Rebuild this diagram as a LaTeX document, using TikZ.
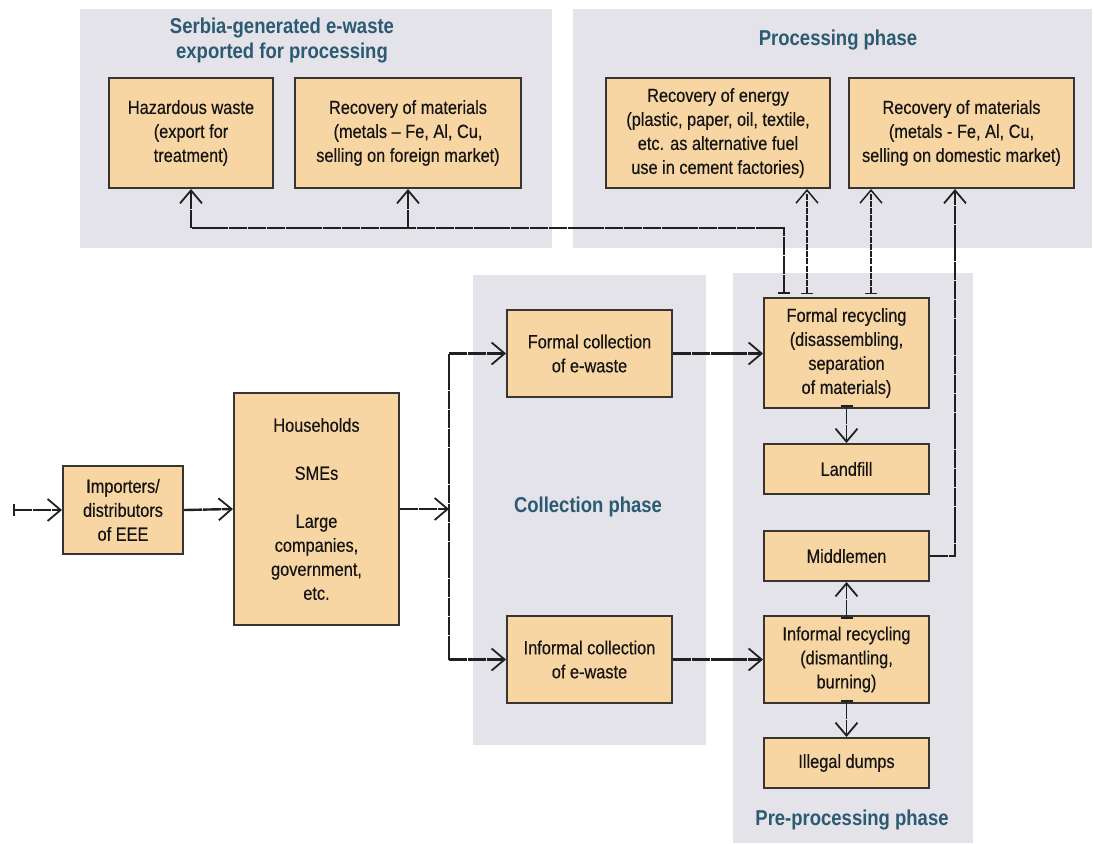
\documentclass[tikz,border=0pt]{standalone}
\usepackage{fontspec}
\setmainfont{Liberation Sans}[FakeStretch=0.86]
\newfontfamily\stagefont{Liberation Sans}[FakeStretch=0.86,FakeBold=0.35,Ligatures=TeX]
\usetikzlibrary{arrows.meta,calc}
\definecolor{panelgray}{HTML}{E3E3E9}
\definecolor{boxfill}{HTML}{F8D6A3}
\definecolor{boxline}{HTML}{3A3430}
\definecolor{titleblue}{HTML}{2B5A72}
\definecolor{flowcol}{HTML}{202020}
\begin{document}
\begin{tikzpicture}[x=1pt,y=-1pt,
  panel/.style={fill=panelgray,draw=none},
  stage/.style={draw=boxline,fill=boxfill,line width=2pt,rectangle,align=center,
    inner sep=0pt,font=\stagefont\fontsize{19}{24}\selectfont,text=black!92},
  phase/.style={align=center,text=titleblue,font=\fontsize{21.5}{25}\selectfont\bfseries},
  flowline/.style={draw=flowcol,line width=2.4pt,dash pattern=on 18pt off 0.8pt},
  headtip/.style={arrows={-Straight Barb[length=13pt,width=22pt,line width=1.8pt]}},
  flow/.style={flowline,arrows={Bar[width=12pt,line width=1.6pt]-Straight Barb[length=13pt,width=22pt,line width=1.8pt]}},
  feed/.style={flowline,headtip},
  dropflow/.style={flow,line width=1.8pt},
  thinflow/.style={draw=flowcol,line width=1.4pt,dash pattern=on 6pt off 1.2pt,
    arrows={Bar[width=12pt,line width=1.2pt]-Straight Barb[length=13pt,width=22pt,line width=1.5pt]}}
]
\useasboundingbox (0,0) rectangle (1094,843);

% phase panels
\fill[panel] (80,9) rectangle (552,248);
\fill[panel] (573,9) rectangle (1092,248);
\fill[panel] (473,275) rectangle (706,745);
\fill[panel] (733,273) rectangle (973,843);

% phase titles
\node[phase] (tExport) at (282,40) {Serbia-generated e-waste\\exported for processing};
\node[phase] (tProc) at (838,40) {Processing phase};
\node[phase] (tColl) at (588,507) {Collection phase};
\node[phase] (tPre) at (852,820) {Pre-processing phase};

% stages
\node[stage,minimum width=120pt,minimum height=88pt] (imp) at (123,510) {Importers/\\distributors\\of EEE};
\node[stage,minimum width=165pt,minimum height=232pt] (hh) at (316.5,509) {Households\\[24pt]SMEs\\[24pt]Large\\companies,\\government,\\etc.};
\node[stage,minimum width=164pt,minimum height=110pt] (haz) at (191,133) {Hazardous waste\\(export for\\treatment)};
\node[stage,minimum width=226pt,minimum height=110pt] (recf) at (408,133) {Recovery of materials\\(metals – Fe, Al, Cu,\\selling on foreign market)};
\node[stage,minimum width=224pt,minimum height=110pt] (rece) at (718,133) {Recovery of energy\\(plastic, paper, oil, textile,\\etc. as alternative fuel\\use in cement factories)};
\node[stage,minimum width=225pt,minimum height=110pt] (recd) at (961.5,133) {Recovery of materials\\(metals - Fe, Al, Cu,\\selling on domestic market)};
\node[stage,minimum width=165pt,minimum height=87pt] (fcol) at (589.5,353.5) {Formal collection\\of e-waste};
\node[stage,minimum width=165pt,minimum height=87pt] (icol) at (589.5,659.5) {Informal collection\\of e-waste};
\node[stage,minimum width=165pt,minimum height=110pt] (frec) at (846.5,353) {Formal recycling\\(disassembling,\\separation\\of materials)};
\node[stage,minimum width=165pt,minimum height=50pt] (land) at (846.5,469) {Landfill};
\node[stage,minimum width=165pt,minimum height=50pt] (mid) at (846.5,556) {Middlemen};
\node[stage,minimum width=165pt,minimum height=87pt] (irec) at (846.5,659.5) {Informal recycling\\(dismantling,\\burning)};
\node[stage,minimum width=165pt,minimum height=50pt] (dump) at (846.5,763) {Illegal dumps};

% routing points
\coordinate (src) at (13,510);
\coordinate (split) at (449,509);
\coordinate (exportrow) at (0,228);
\coordinate (u0) at ($(frec.north west)+(21,-3)$);
\coordinate (u1) at ($(frec.north west)+(44,-3)$);
\coordinate (u2) at ($(frec.north west)+(108,-3)$);
\coordinate (riser) at (955,0);

% supply chain
\draw[flow] (src) -- (imp.west);
\draw[feed] (imp.east) -- (hh.west);
\draw[feed] (hh.east) -- (split);
\draw[flowline] (split |- fcol.west) -- (split |- icol.west);
\draw[feed] (split |- fcol.west) -- (fcol.west);
\draw[feed] (split |- icol.west) -- (icol.west);
\draw[feed] (fcol.east) -- (fcol.east -| frec.west);
\draw[feed] (icol.east) -- (icol.east -| irec.west);

% pre-processing column
\draw[dropflow] ([yshift=4pt]frec.south) -- (land.north);
\draw[dropflow] ([yshift=4pt]irec.south) -- (dump.north);
\draw[dropflow] ([yshift=-4pt]irec.north) -- (mid.south);
\draw[feed] (mid.east) -| (riser |- recd.south);

% to processing and export
\draw[flow] (u0) -- (u0 |- exportrow) -| (haz.south);
\draw[feed] (recf.south |- exportrow) -- (recf.south);
\draw[thinflow] (u1) -- (u1 |- rece.south);
\draw[thinflow] (u2) -- (u2 |- recd.south);
\end{tikzpicture}
\end{document}
